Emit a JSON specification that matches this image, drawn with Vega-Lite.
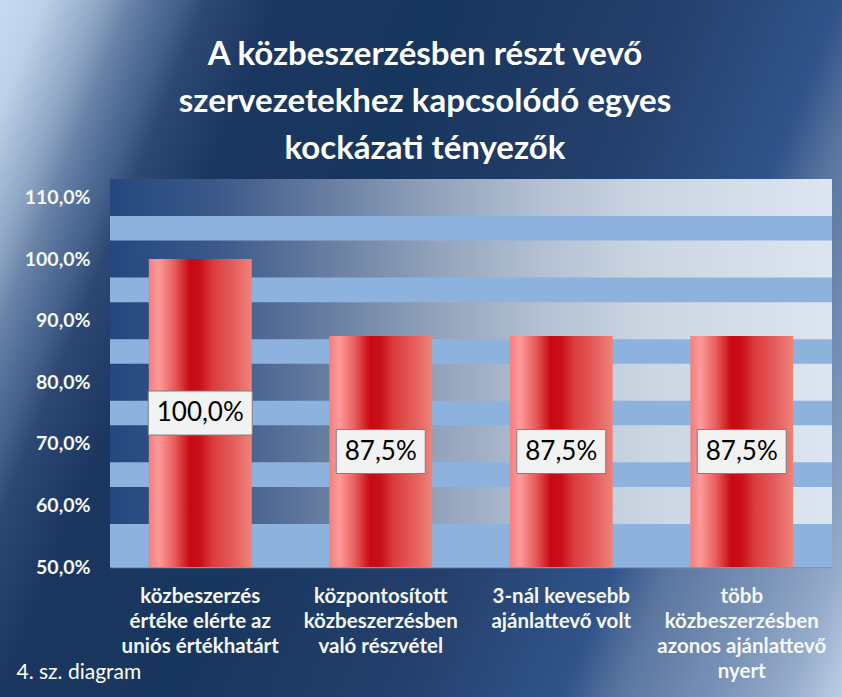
{
  "$schema": "https://vega.github.io/schema/vega-lite/v6.json",
  "width": 722,
  "height": 388,
  "autosize": {"type": "none"},
  "padding": {"left": 110, "top": 179, "right": 10, "bottom": 130},
  "background": "#1b3a64",
  "config": {
    "locale": {"number": {"decimal": ",", "thousands": " ", "grouping": [3], "currency": ["", ""]}},
    "font": "Lato",
    "view": {
      "fill": "#8eb2de",
      "strokeWidth": 360,
      "strokeJoin": "miter",
      "stroke": {
        "gradient": "linear",
        "x1": -0.25153, "y1": 0, "x2": 1.23226, "y2": 0.31895,
        "stops": [
          {"offset": 0, "color": "#c8dbf2"},
          {"offset": 0.04, "color": "#bdd0e7"},
          {"offset": 0.093, "color": "#8aa2c2"},
          {"offset": 0.116, "color": "#6a84a8"},
          {"offset": 0.137, "color": "#56739c"},
          {"offset": 0.16, "color": "#44608b"},
          {"offset": 0.185, "color": "#2c4873"},
          {"offset": 0.25, "color": "#1b3761"},
          {"offset": 0.4, "color": "#17365d"},
          {"offset": 0.6, "color": "#243f6c"},
          {"offset": 0.7, "color": "#2c4d80"},
          {"offset": 0.75, "color": "#31538a"},
          {"offset": 0.8, "color": "#5b77a0"},
          {"offset": 0.89, "color": "#7a93b8"},
          {"offset": 0.95, "color": "#95abca"},
          {"offset": 1, "color": "#bccee6"}
        ]
      }
    }
  },
  "title": {
    "text": ["A közbeszerzésben részt vevő", "szervezetekhez kapcsolódó egyes", "kockázati tényezők"],
    "color": "white",
    "font": "Lato",
    "fontSize": 33,
    "fontWeight": "bold",
    "lineHeight": 47,
    "offset": 13,
    "dx": -46,
    "anchor": "middle"
  },
  "datasets": {
    "bars": [
      {"factor": "közbeszerzés\nértéke elérte az\nuniós értékhatárt", "share": 1.0},
      {"factor": "központosított\nközbeszerzésben\nvaló részvétel", "share": 0.875},
      {"factor": "3-nál kevesebb\najánlattevő volt", "share": 0.875},
      {"factor": "több\nközbeszerzésben\nazonos ajánlattevő\nnyert", "share": 0.875}
    ],
    "grid": [
      {"level": 0.6}, {"level": 0.7}, {"level": 0.8}, {"level": 0.9}, {"level": 1.0}, {"level": 1.1}
    ],
    "panel": [{"panel": "plot"}]
  },
  "data": {"name": "bars"},
  "layer": [
    {
      "data": {"name": "panel"},
      "mark": {"type": "rect", "color": "#8eb2de", "opacity": 1},
      "encoding": {
        "y": {"datum": 1.13, "type": "quantitative", "scale": {"domain": [0.5, 1.13], "nice": false, "zero": false}, "axis": null},
        "y2": {"datum": 0.5}
      }
    },
    {
      "data": {"name": "grid"},
      "mark": {
        "type": "tick",
        "orient": "horizontal",
        "size": 722,
        "thickness": 37,
        "opacity": 1,
        "color": {
          "gradient": "linear", "x1": 0, "y1": 0, "x2": 1, "y2": 0,
          "stops": [
            {"offset": 0, "color": "#23487f"},
            {"offset": 0.15, "color": "#3c5989"},
            {"offset": 0.3, "color": "#687ea1"},
            {"offset": 0.45, "color": "#92a2bb"},
            {"offset": 0.6, "color": "#b4c1d3"},
            {"offset": 0.75, "color": "#ccd6e3"},
            {"offset": 1, "color": "#dce5f0"}
          ]
        }
      },
      "encoding": {
        "y": {"field": "level", "type": "quantitative", "scale": {"domain": [0.5, 1.13], "nice": false, "zero": false}, "axis": null}
      }
    },
    {
      "mark": {
        "type": "bar",
        "opacity": 1,
        "color": {
          "gradient": "linear", "x1": 0, "y1": 0, "x2": 1, "y2": 0,
          "stops": [
            {"offset": 0, "color": "#f27f7f"},
            {"offset": 0.1, "color": "#ff9a9a"},
            {"offset": 0.25, "color": "#e85c5c"},
            {"offset": 0.4, "color": "#c80812"},
            {"offset": 0.5, "color": "#c8101a"},
            {"offset": 0.62, "color": "#dc3a3a"},
            {"offset": 0.85, "color": "#e56262"},
            {"offset": 1, "color": "#ef8478"}
          ]
        }
      },
      "encoding": {
        "x": {
          "field": "factor", "type": "nominal", "sort": null,
          "scale": {"paddingInner": 0.43, "paddingOuter": 0.215},
          "axis": {
            "title": "4. sz. diagram",
            "titleX": -94, "titleY": 111,
            "titleAlign": "left", "titleAnchor": "start", "titleBaseline": "alphabetic",
            "titleFont": "Lato", "titleFontSize": 21, "titleFontWeight": "normal", "titleColor": "white",
            "labelExpr": "split(datum.label, '\\n')",
            "labelAngle": 0,
            "labelColor": "#f4f7fb",
            "labelFont": "Lato",
            "labelFontWeight": "bold",
            "labelFontSize": 20.5,
            "labelLineHeight": 25,
            "labelPadding": 19,
            "labelLimit": 300,
            "labelOverlap": false,
            "ticks": false,
            "tickSize": 0,
            "domainColor": "#8094b0",
            "domainWidth": 1.5,
            "grid": false
          }
        },
        "y": {
          "field": "share", "type": "quantitative",
          "scale": {"domain": [0.5, 1.13], "nice": false, "zero": false},
          "axis": {
            "values": [0.5, 0.6, 0.7, 0.8, 0.9, 1.0, 1.1],
            "format": ".1%",
            "title": null,
            "ticks": false,
            "tickSize": 0,
            "domain": false,
            "grid": false,
            "labelColor": "#f4f7fb",
            "labelFont": "Lato",
            "labelFontWeight": "bold",
            "labelFontSize": 19.5,
            "labelPadding": 20
          }
        },
        "y2": {"datum": 0.5}
      }
    },
    {
      "encoding": {
        "x": {
          "field": "factor", "type": "nominal", "sort": null,
          "axis": {
            "title": "4. sz. diagram",
            "titleX": -94, "titleY": 111,
            "titleAlign": "left", "titleAnchor": "start", "titleBaseline": "alphabetic",
            "titleFont": "Lato", "titleFontSize": 21, "titleFontWeight": "normal", "titleColor": "white",
            "labelExpr": "split(datum.label, '\\n')",
            "labelAngle": 0,
            "labelColor": "#f4f7fb",
            "labelFont": "Lato",
            "labelFontWeight": "bold",
            "labelFontSize": 20.5,
            "labelLineHeight": 25,
            "labelPadding": 19,
            "labelLimit": 300,
            "labelOverlap": false,
            "ticks": false,
            "tickSize": 0,
            "domainColor": "#8094b0",
            "domainWidth": 1.5,
            "grid": false
          }
        },
        "y": {"field": "share", "type": "quantitative", "scale": {"domain": [0.5, 1.76], "nice": false, "zero": false}, "axis": null}
      },
      "layer": [
        {
          "mark": {"type": "tick", "orient": "horizontal", "thickness": 44, "color": "#f2f2f2", "stroke": "#7f7f7f", "strokeWidth": 1, "opacity": 1},
          "encoding": {
            "size": {"field": "share", "type": "quantitative", "scale": {"domain": [0.875, 1], "range": [89, 104]}, "legend": null}
          }
        },
        {
          "mark": {"type": "text", "font": "Lato", "fontSize": 26, "color": "black", "align": "center", "baseline": "middle"},
          "encoding": {
            "text": {"field": "share", "type": "quantitative", "format": ".1%"}
          }
        }
      ]
    }
  ],
  "resolve": {"scale": {"y": "independent"}}
}
